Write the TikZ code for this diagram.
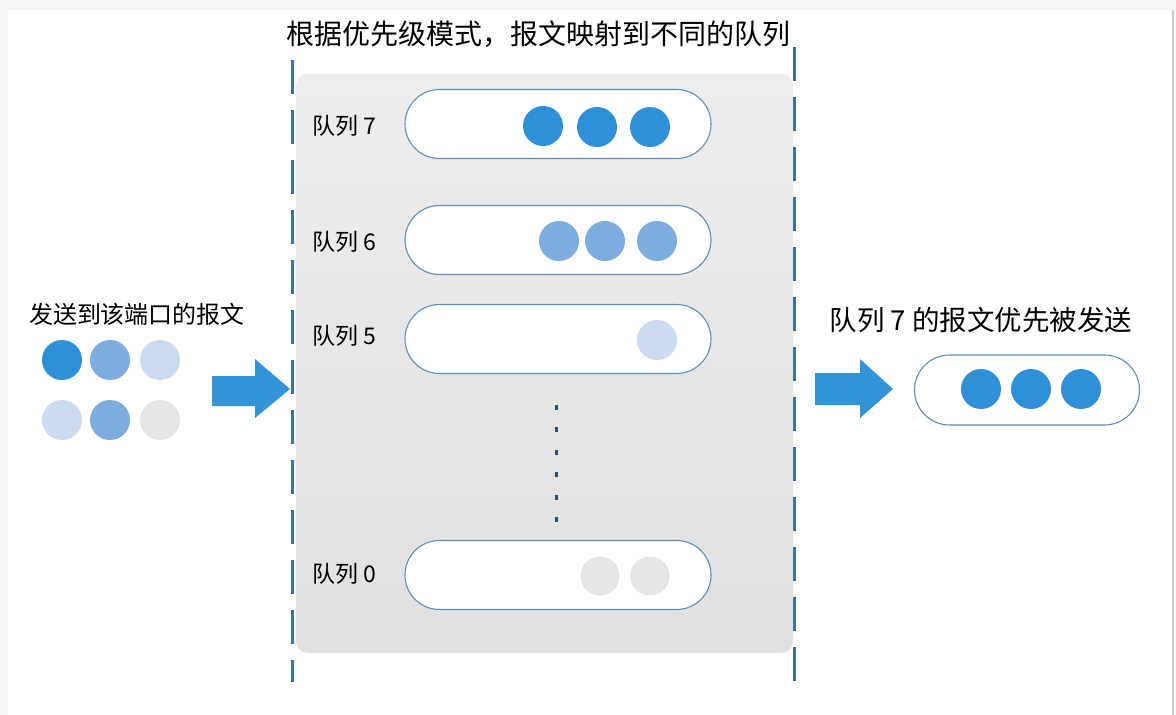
\documentclass[tikz,border=0pt]{standalone}
\usepackage{fontspec}
\setmainfont{Noto Sans CJK SC}
\definecolor{pkblue}{HTML}{2F8FD9}
\definecolor{pkmid}{HTML}{7DADDF}
\definecolor{pklight}{HTML}{CBDBF0}
\definecolor{pkgray}{HTML}{E5E5E5}
\definecolor{dashblue}{HTML}{3F72A0}
\definecolor{pillline}{HTML}{5F8DB3}
\definecolor{paneltop}{HTML}{EDEDED}
\definecolor{panelbot}{HTML}{E0E0E0}
\definecolor{arrowblue}{HTML}{3294D6}
\tikzset{
  pill/.style={draw=pillline, line width=1.1pt, fill=white, rounded corners=34.5pt, minimum width=306pt, minimum height=69pt, inner sep=0pt},
  pkt/.style={circle, minimum size=40pt, inner sep=0pt, draw=none},
  qlabel/.style={font=\fontsize{23}{26}\selectfont, anchor=west, inner sep=0pt},
  divider/.style={draw=dashblue, line width=3pt, dash pattern=on 34pt off 16pt},
  bigarrow/.style={fill=arrowblue, draw=none},
  vdots/.style={fill=dashblue!70!black, inner sep=0pt, minimum width=3pt, minimum height=5pt}
}
\begin{document}
\begin{tikzpicture}[x=1pt,y=-1pt]
\useasboundingbox (0,0) rectangle (1176,715);
% frame
\fill[gray!8] (0,0) rectangle (1176,715);
\fill[white] (8,10) rectangle (1172,715);
\draw[gray!40, line width=1.5pt] (1173,10) -- (1173,715);
% panel
\shade[top color=paneltop, bottom color=panelbot, rounded corners=12pt] (296,74) rectangle (793,653);
% dividers
\coordinate (dl1) at (292,60);
\coordinate (dl2) at (292,682);
\coordinate (dr1) at (794,47);
\coordinate (dr2) at (794,690);
\draw[divider] (dl1) -- (dl2);
\draw[divider] (dr1) -- (dr2);
% title
\node[font=\fontsize{28}{32}\selectfont, inner sep=0pt] (title) at (538,34) {根据优先级模式，报文映射到不同的队列};
% queues
\node[pill] (q7) at (558,124) {};
\node[pill] (q6) at (558,240) {};
\node[pill] (q5) at (558,339) {};
\node[pill] (q0) at (558,575) {};
\node[qlabel] (l7) at (312,126) {队列 7};
\node[qlabel] (l6) at (312,242) {队列 6};
\node[qlabel] (l5) at (312,336) {队列 5};
\node[qlabel] (l0) at (312,574) {队列 0};
% queue 7 packets
\node[pkt, fill=pkblue] (p71) at (543,126) {};
\node[pkt, fill=pkblue] (p72) at (597,127) {};
\node[pkt, fill=pkblue] (p73) at (650,127) {};
% queue 6
\node[pkt, fill=pkmid] (p61) at (559,241) {};
\node[pkt, fill=pkmid] (p62) at (605,241) {};
\node[pkt, fill=pkmid] (p63) at (657,241) {};
% queue 5
\node[pkt, fill=pklight] (p51) at (657,340) {};
% queue 0
\node[pkt, fill=pkgray, minimum size=39pt] (p01) at (600,576) {};
\node[pkt, fill=pkgray, minimum size=39pt] (p02) at (650,576) {};
% vertical dots
\foreach \i in {0,...,5} {
  \node[vdots] (vd\i) at (556,{407+\i*22.5}) {};
}
% left input
\node[font=\fontsize{24}{28}\selectfont, inner sep=0pt] (intext) at (137,314) {发送到该端口的报文};
\node[pkt, fill=pkblue] (i1) at (62,360) {};
\node[pkt, fill=pkmid] (i2) at (110,360) {};
\node[pkt, fill=pklight] (i3) at (160,360) {};
\node[pkt, fill=pklight] (i4) at (62,420) {};
\node[pkt, fill=pkmid] (i5) at (110,420) {};
\node[pkt, fill=pkgray] (i6) at (160,420) {};
% arrows
\fill[bigarrow] (212,376) -- (255,376) -- (255,359) -- (290,389) -- (255,418) -- (255,406) -- (212,406) -- cycle;
\fill[bigarrow] (815,373) -- (860,373) -- (860,359) -- (893,389) -- (860,418) -- (860,405) -- (815,405) -- cycle;
% output
\node[font=\fontsize{27.5}{31}\selectfont, inner sep=0pt] (outtext) at (981,320) {队列 7 的报文优先被发送};
\node[pill, minimum width=225pt, minimum height=70pt, rounded corners=35pt] (qo) at (1027,390) {};
\node[pkt, fill=pkblue] (o1) at (981,389) {};
\node[pkt, fill=pkblue] (o2) at (1031,389) {};
\node[pkt, fill=pkblue] (o3) at (1081,389) {};
\end{tikzpicture}
\end{document}
